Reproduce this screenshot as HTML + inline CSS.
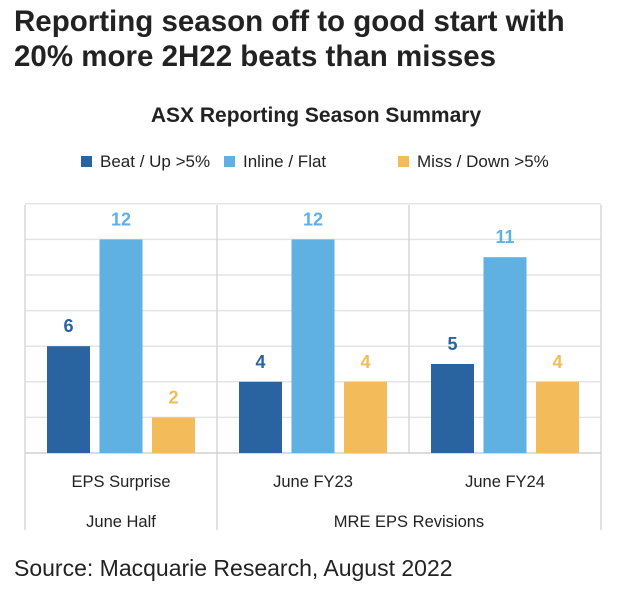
<!DOCTYPE html>
<html><head><meta charset="utf-8"><style>
body{margin:0;width:626px;height:596px;background:#fff;font-family:"Liberation Sans",sans-serif;overflow:hidden}
h1{position:absolute;left:14px;top:4px;margin:0;font-size:29.5px;line-height:35px;font-weight:bold;color:#222}
.src{position:absolute;left:14px;top:555px;font-size:23px;color:#222}
</style></head><body>
<h1>Reporting season off to good start with<br>20% more 2H22 beats than misses</h1>
<svg id="c" width="626" height="596" style="position:absolute;left:0;top:0"></svg>
<div class="src">Source: Macquarie Research, August 2022</div>
<script>
const categories=["EPS Surprise","June FY23","June FY24"];
const beat=[6,4,5];
const inline=[12,12,11];
const miss=[2,4,4];
const seriesNames=["Beat / Up >5%","Inline / Flat","Miss / Down >5%"];
const colors=["#2a64a0","#5eb1e0","#f4bb5a"];
const NS="http://www.w3.org/2000/svg";
const svg=document.getElementById('c');
function el(t,a,txt){const e=document.createElementNS(NS,t);for(const k in a)e.setAttribute(k,a[k]);if(txt!=null)e.textContent=txt;svg.appendChild(e);return e;}
const L=25,R=601,B=453,T=205,unit=17.8;
const y=v=>B-v*unit;
const gw=(R-L)/categories.length;
const F='"Liberation Sans",sans-serif';
let t=el('text',{x:316,y:122,'text-anchor':'middle','font-size':21,'font-weight':'bold','font-family':F,fill:'#222'},'ASX Reporting Season Summary');

const lx=[81,224,398];
seriesNames.forEach((n,i)=>{
 const r=el('rect',{x:lx[i],y:156,width:11,height:11,fill:colors[i]});
 
 const tx=el('text',{x:lx[i]+19,y:167,'font-size':17,'font-family':F,fill:'#222'},n);
 
});
for(let v=2;v<=14;v+=2){const g=el('line',{x1:L,x2:R,y1:y(v),y2:y(v),stroke:'#e4e4e4','stroke-width':1.5});}
el('line',{x1:L,x2:L,y1:T,y2:530,stroke:'#d8d8d8','stroke-width':1.5});
el('line',{x1:R,x2:R,y1:T,y2:530,stroke:'#d8d8d8','stroke-width':1.5});
el('line',{x1:L+gw,x2:L+gw,y1:T,y2:530,stroke:'#d8d8d8','stroke-width':1.5});
el('line',{x1:L+2*gw,x2:L+2*gw,y1:T,y2:B,stroke:'#d8d8d8','stroke-width':1.5});
el('line',{x1:L,x2:R,y1:B,y2:B,stroke:'#d0d0d0','stroke-width':1.5});
const series=[beat,inline,miss];
const bw=43,gap=9.5;
categories.forEach((c,ci)=>{
 const x0=L+ci*gw+gw/2-(3*bw+2*gap)/2;
 series.forEach((s,si)=>{
  const x=x0+si*(bw+gap);
  const r=el('rect',{x:x,y:y(s[ci]),width:bw,height:s[ci]*unit,fill:colors[si]});
  
  const lb=el('text',{x:x+bw/2,y:y(s[ci])-14,'text-anchor':'middle','font-size':18,'font-weight':'bold','font-family':F,fill:colors[si]},s[ci]);
  
 });
 const cl=el('text',{x:L+ci*gw+gw/2,y:487,'text-anchor':'middle','font-size':16.5,'font-family':F,fill:'#222'},c);
 
});
let g1=el('text',{x:L+gw/2,y:527,'text-anchor':'middle','font-size':16.5,'font-family':F,fill:'#222'},'June Half');

let g2=el('text',{x:L+2*gw,y:527,'text-anchor':'middle','font-size':16.5,'font-family':F,fill:'#222'},'MRE EPS Revisions');

</script>
</body></html>
